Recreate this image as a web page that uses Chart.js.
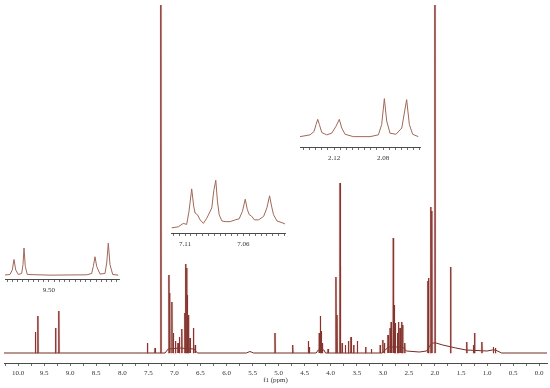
<!DOCTYPE html>
<html>
<head>
<meta charset="utf-8">
<script src="https://cdn.jsdelivr.net/npm/chart.js@4.4.1/dist/chart.umd.min.js"></script>
<style>
  body { margin: 0; background: #fff; }
  #wrap { position: relative; width: 550px; height: 388px; }
  canvas { position: absolute; }
</style>
</head>
<body>
<div id="wrap">
  <canvas id="main" width="550" height="388" style="left:0px;top:0px"></canvas>
  <canvas id="inset1" width="125" height="67" style="left:0px;top:232px"></canvas>
  <canvas id="inset2" width="140" height="82" style="left:160px;top:171px"></canvas>
  <canvas id="inset3" width="140" height="77" style="left:290px;top:90px"></canvas>
</div>
<script>
// main spectrum: peak shifts (ppm) and heights (px above baseline)
const mainShift = [9.667, 9.620, 9.280, 9.218, 7.518, 7.37, 7.26,
  7.105, 7.090, 7.048, 7.02, 6.98, 6.93, 6.904, 6.858, 6.80, 6.785, 6.765, 6.752, 6.73, 6.70, 6.635, 6.60,
  5.07, 4.73, 4.43, 4.41, 4.22, 4.20, 4.18, 4.16, 4.05,
  3.90, 3.88, 3.82, 3.815, 3.78, 3.72, 3.66, 3.61, 3.56, 3.49, 3.33, 3.22,
  3.05, 3.00, 2.97, 2.90, 2.86, 2.84, 2.80, 2.78, 2.76, 2.72, 2.70, 2.67, 2.64, 2.62, 2.58,
  2.133, 2.123, 2.079, 2.060, 2.00, 1.70, 1.39, 1.26, 1.24, 1.10, 0.88, 0.84];
const mainHeight = [21, 37, 25, 42, 10, 5, 348,
  78, 60, 51, 20, 12, 10, 16, 24, 40, 89, 85, 58, 38, 15, 25, 8,
  20, 8, 12, 6, 20, 37, 22, 10, 4,
  76, 38, 170, 87, 10, 8, 12, 16, 8, 12, 6, 4,
  8, 13, 10, 18, 25, 31, 115, 48, 30, 20, 31, 25, 31, 28, 10,
  72, 75, 146, 142, 348, 86, 11, 8, 20, 11, 6, 5];
// slowly varying baseline (ppm, level)
const mainBaseX = [10.27, 7.60, 7.18, 7.12, 6.90, 6.62, 6.56, 5.62, 5.55, 5.48, 4.28, 4.24, 4.13, 4.10,
  3.02, 2.95, 2.90, 2.62, 2.55, 2.30, 2.16, 2.10, 2.05, 1.98, 1.85, 1.60, 1.40, 1.00, 0.90, 0.84, 0.72, -0.15];
const mainBaseY = [0, 0, 0, 4, 5, 4, 0, 0, 1.5, 0, 0, 3, 3, 0,
  0, 3, 6, 6, 2, 1, 2, 7, 10, 10, 8, 5, 3, 2, 3, 3, 0, 0];
const mainTicks = [10.0, 9.5, 9.0, 8.5, 8.0, 7.5, 7.0, 6.5, 6.0, 5.5, 5.0, 4.5, 4.0, 3.5, 3.0, 2.5, 2.0, 1.5, 1.0, 0.5, 0.0];

// inset 1 (9.7 - 9.2 ppm)
const in1X = [9.7187, 9.6866, 9.6756, 9.6675, 9.6593, 9.6469, 9.6306, 9.6244, 9.6196, 9.6134, 9.6038, 9.4952,
  9.3196, 9.2957, 9.2880, 9.2799, 9.2718, 9.2560, 9.2321, 9.2239, 9.2163, 9.2081, 9.1952, 9.1684];
const in1Y = [3.7, 4.3, 8.7, 18.7, 8.7, 4.3, 5.3, 13.7, 29.7, 12, 4.3, 3.7,
  4, 5.3, 12, 21.3, 12, 4.7, 5.3, 15.3, 34.3, 13.7, 4.3, 3.7];
const in1Ticks = [9.50];

// inset 2 (7.12 - 7.02 ppm)
const in2X = [7.1214, 7.1157, 7.1115, 7.1086, 7.1066, 7.1043, 7.1026, 7.1014, 7.0994, 7.0971, 7.0943, 7.0914,
  7.0892, 7.0871, 7.0854, 7.0837, 7.0823, 7.0808, 7.0785, 7.0757, 7.0714, 7.0671, 7.0637, 7.0609, 7.0585,
  7.0568, 7.0551, 7.0534, 7.0506, 7.0471, 7.0428, 7.0400, 7.0377, 7.0360, 7.0343, 7.0314, 7.0271, 7.0240];
const in2Y = [5, 6, 9.3, 8.3, 21, 42.7, 26, 19.3, 17.7, 12.7, 9.3, 14.3,
  19.3, 24.3, 41, 51, 31, 17.7, 11.7, 11, 11, 12.7, 13.7, 21, 32.7,
  23, 17.7, 16.7, 12.7, 12.7, 16, 24.3, 36, 26, 17.7, 11.7, 10, 8.5];
const in2Ticks = [7.11, 7.06];

// inset 3 (2.15 - 2.05 ppm)
const in3X = [2.1478, 2.1396, 2.1363, 2.1347, 2.1333, 2.1320, 2.1300, 2.1260, 2.1219, 2.1184, 2.1157, 2.1137,
  2.1110, 2.1042, 2.0906, 2.0838, 2.0811, 2.0789, 2.0770, 2.0743, 2.0694, 2.0647, 2.0607, 2.0585, 2.0558, 2.0512];
const in3Y = [10, 11.7, 15, 21.7, 26.7, 21.7, 14, 11.7, 13.3, 20, 26.7, 18.3,
  12.3, 10, 10, 11.7, 21.7, 46.7, 25, 13.3, 12.3, 18.3, 45.7, 21.7, 12.3, 10];
const in3Ticks = [2.12, 2.08];

const specColor = 'rgb(112,44,34)';
const haloColor = 'rgba(245,120,130,0.14)';
const insetColor = 'rgb(160,104,88)';
const axisColor = '#4a4a4a';
const tickFont = { family: 'Liberation Serif', size: 7, lineHeight: 1 };

function pairs(xs, ys) {
    return xs.map((x, i) => ({ x: x, y: ys[i] }));
}

// each peak drawn as a thin stick, separated by gaps
function sticks(shifts, heights) {
    const pts = [];
    shifts.forEach((s, i) => {
        pts.push({ x: s + 0.006, y: 0 });
        pts.push({ x: s, y: heights[i] });
        pts.push({ x: s - 0.006, y: 0 });
        pts.push({ x: s, y: null });
    });
    return pts;
}

function labelFrom(list, digits) {
    return (value) => {
        const hit = list.find(t => Math.abs(t - value) < 1e-6);
        return hit === undefined ? '' : hit.toFixed(digits);
    };
}

function xAxis(min, max, step, labels, digits, pad, title) {
    return {
        type: 'linear',
        reverse: true,
        min: min,
        max: max,
        grid: { drawOnChartArea: false, drawTicks: true, tickLength: 3, color: axisColor, lineWidth: 0.8 },
        border: { display: true, color: axisColor, width: 1 },
        ticks: {
            stepSize: step,
            includeBounds: false,
            autoSkip: false,
            maxRotation: 0,
            maxTicksLimit: 500,
            padding: pad,
            color: '#333',
            font: tickFont,
            callback: labelFrom(labels, digits)
        },
        title: title ? {
            display: true,
            text: title,
            color: '#333',
            font: { family: 'Liberation Serif', size: 7, lineHeight: 1 },
            padding: { top: -3, bottom: 0 }
        } : { display: false }
    };
}

function lineSet(data, color, width) {
    return {
        data: data,
        showLine: true,
        borderColor: color,
        borderWidth: width,
        pointRadius: 0,
        tension: 0,
        spanGaps: false
    };
}

const common = {
    responsive: false,
    animation: false,
    events: [],
    plugins: { legend: { display: false }, tooltip: { enabled: false } }
};

new Chart(document.getElementById('main'), {
    type: 'scatter',
    data: {
        datasets: [
            // soft reddish halo seen around the dense multiplets
            lineSet(sticks(mainShift, mainHeight), haloColor, 3),
            lineSet(pairs(mainBaseX, mainBaseY), specColor, 1),
            lineSet(sticks(mainShift, mainHeight), specColor, 1)
        ]
    },
    options: {
        ...common,
        layout: { padding: { left: 4, right: 3, top: 3, bottom: 4 } },
        scales: {
            x: xAxis(-0.15, 10.27, 0.25, mainTicks, 1, 3.5, 'f1 (ppm)'),
            y: { display: false, min: -10, max: 350 }
        }
    }
});

function inset(id, xs, ys, min, max, step, labels, padL, padR, areaH) {
    new Chart(document.getElementById(id), {
        type: 'scatter',
        data: { datasets: [lineSet(pairs(xs, ys), insetColor, 1)] },
        options: {
            ...common,
            layout: { padding: { left: padL, right: padR, top: 0, bottom: 0 } },
            scales: {
                x: xAxis(min, max, step, labels, 2, 5, null),
                y: { display: false, min: 0, max: areaH }
            }
        }
    });
}

inset('inset1', in1X, in1Y, 9.1651, 9.7105, 0.025, in1Ticks, 5, 6, 45);
inset('inset2', in2X, in2Y, 7.0245, 7.122, 0.005, in2Ticks, 11, 15, 60);
inset('inset3', in3X, in3Y, 2.0498, 2.1478, 0.005, in3Ticks, 10, 10, 55);
</script>
</body>
</html>
